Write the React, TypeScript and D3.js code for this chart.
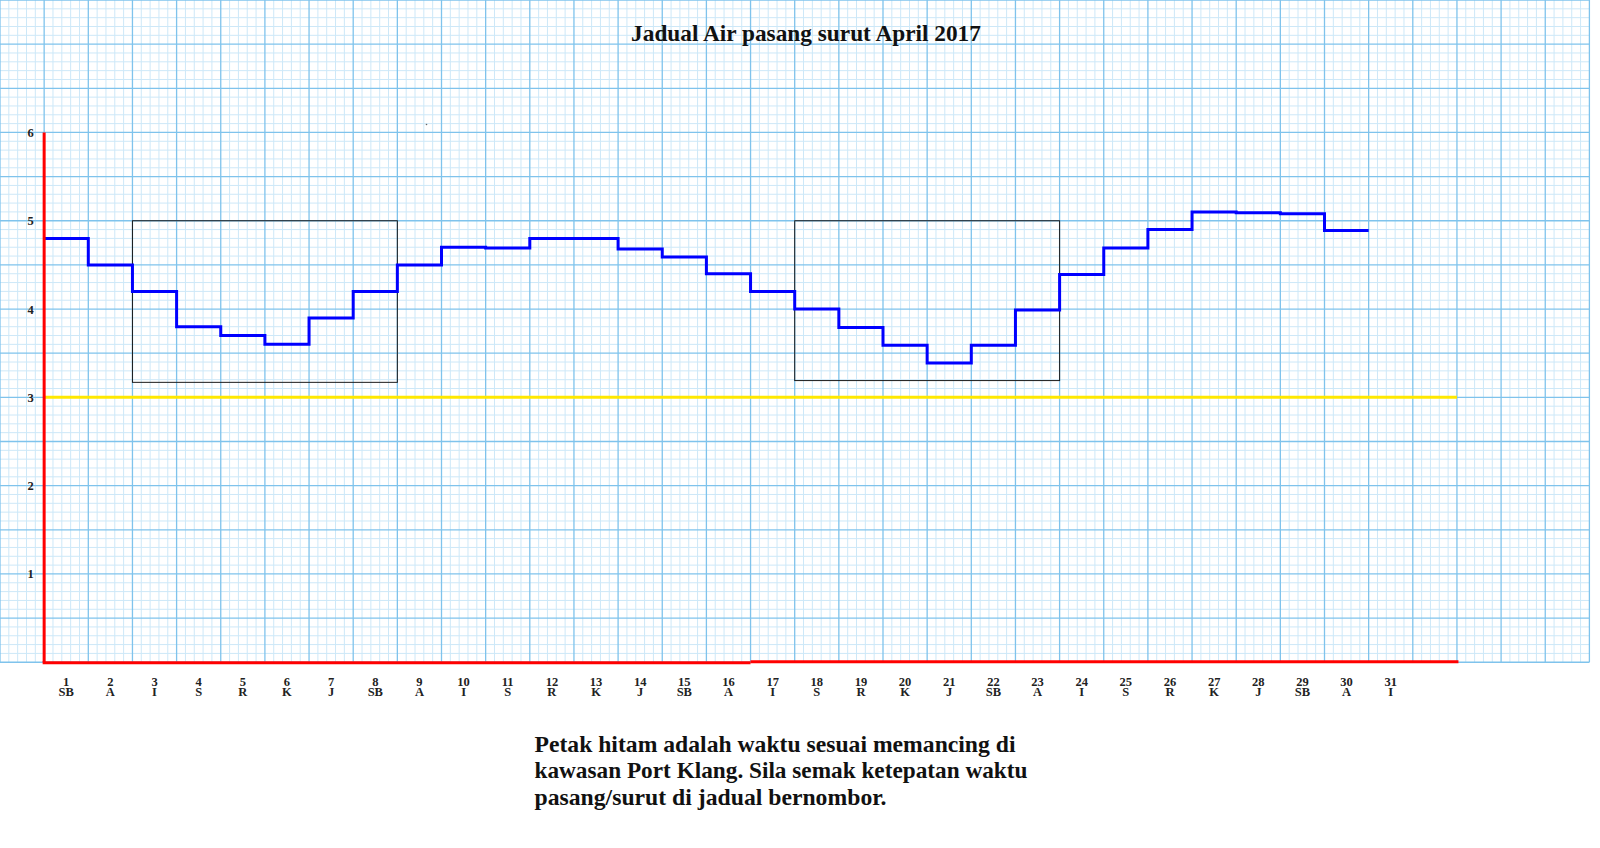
import React, { useEffect, useRef } from "react";
import * as d3 from "d3";

// April 2017 tide chart (Port Klang)
const dayNumbers = ["1","2","3","4","5","6","7","8","9","10","11","12","13","14","15","16","17","18","19","20","21","22","23","24","25","26","27","28","29","30","31"];
const dayNames = ["SB","A","I","S","R","K","J","SB","A","I","S","R","K","J","SB","A","I","S","R","K","J","SB","A","I","S","R","K","J","SB","A","I"];
const tideLevels = [4.8, 4.5, 4.2, 3.8, 3.7, 3.6, 3.9, 4.2, 4.5, 4.7, 4.69, 4.8, 4.8, 4.68, 4.59, 4.4, 4.2, 4.0, 3.79, 3.59, 3.39, 3.59, 3.99, 4.39, 4.69, 4.9, 5.1, 5.09, 5.08, 4.89];
const yTicks = [1, 2, 3, 4, 5, 6];
const thresholdLevel = 3;
const windowStartDays = [3, 18];
const windowEndDays = [8, 23];
const windowTops = [5, 5];
const windowBottoms = [3.17, 3.19];
const titleText = "Jadual Air pasang surut April 2017";
const noteLines = [
  "Petak hitam adalah waktu sesuai memancing di",
  "kawasan Port Klang. Sila semak ketepatan waktu",
  "pasang/surut di jadual bernombor.",
];
const noteWidths = [481, 493, 352];

const W = 1600;
const H = 848;
const CELL = 44.15;
const COLS = 36;
const ROWS = 15;
const FONT = "'Liberation Serif', 'DejaVu Serif', serif";

export default function App() {
  const svgRef = useRef<SVGSVGElement>(null);

  useEffect(() => {
    const svg = d3.select(svgRef.current);
    svg.selectAll("*").remove();

    // one grid cell = one day horizontally, half a metre vertically
    const x = d3.scaleLinear().domain([0, COLS]).range([0, COLS * CELL]);
    const y = d3.scaleLinear().domain([0, ROWS / 2]).range([ROWS * CELL, 0]);
    const gridW = COLS * CELL;
    const gridH = ROWS * CELL;

    const grid = svg.append("g");
    const minorX = d3.range(0, COLS * 5 + 1).filter((i) => i % 5 !== 0);
    const minorY = d3.range(0, ROWS * 5 + 1).filter((i) => i % 5 !== 0);
    grid.selectAll(".mx").data(minorX).join("line")
      .attr("x1", (i) => x(i / 5)).attr("x2", (i) => x(i / 5))
      .attr("y1", 0).attr("y2", gridH)
      .attr("stroke", "#cde8f8").attr("stroke-width", 1);
    grid.selectAll(".my").data(minorY).join("line")
      .attr("y1", (i) => y(i / 10)).attr("y2", (i) => y(i / 10))
      .attr("x1", 0).attr("x2", gridW)
      .attr("stroke", "#cde8f8").attr("stroke-width", 1);
    grid.selectAll(".Mx").data(d3.range(0, COLS + 1)).join("line")
      .attr("x1", (i) => x(i)).attr("x2", (i) => x(i))
      .attr("y1", 0).attr("y2", gridH)
      .attr("stroke", "#7fc3ec").attr("stroke-width", 1.3);
    grid.selectAll(".My").data(d3.range(0, ROWS + 1)).join("line")
      .attr("y1", (i) => y(i / 2)).attr("y2", (i) => y(i / 2))
      .attr("x1", 0).attr("x2", gridW)
      .attr("stroke", "#7fc3ec").attr("stroke-width", 1.3);

    // title
    svg.append("text")
      .attr("x", 806).attr("y", 41)
      .attr("text-anchor", "middle")
      .attr("font-family", FONT).attr("font-weight", "bold")
      .attr("font-size", 23.3)
      .attr("fill", "#111")
      .text(titleText);

    // threshold line
    svg.append("line")
      .attr("x1", x(1)).attr("x2", x(33))
      .attr("y1", y(thresholdLevel)).attr("y2", y(thresholdLevel))
      .attr("stroke", "#ffe800").attr("stroke-width", 3);

    // fishing windows
    svg.selectAll(".win").data(windowStartDays).join("rect")
      .attr("x", (d) => x(d))
      .attr("width", (d, i) => x(windowEndDays[i] + 1) - x(d))
      .attr("y", (d, i) => y(windowTops[i]))
      .attr("height", (d, i) => y(windowBottoms[i]) - y(windowTops[i]))
      .attr("fill", "none").attr("stroke", "#1a1a1a").attr("stroke-width", 1);

    // tide step line
    const pts: [number, number][] = tideLevels.map((v, i) => [i + 1, v]);
    pts.push([tideLevels.length + 1, tideLevels[tideLevels.length - 1]]);
    const stepLine = d3.line<[number, number]>()
      .x((d) => x(d[0]))
      .y((d) => y(d[1]))
      .curve(d3.curveStepAfter);
    svg.append("path")
      .attr("d", stepLine(pts))
      .attr("fill", "none")
      .attr("stroke", "#0000ff")
      .attr("stroke-width", 3);

    // axes in red
    svg.append("line")
      .attr("x1", x(1)).attr("x2", x(1))
      .attr("y1", y(6)).attr("y2", y(0))
      .attr("stroke", "#ff0000").attr("stroke-width", 3);
    svg.append("line")
      .attr("x1", x(1) - 1.5).attr("x2", x(17))
      .attr("y1", y(0) + 0.5).attr("y2", y(0) + 0.5)
      .attr("stroke", "#ff0000").attr("stroke-width", 3);
    svg.append("line")
      .attr("x1", x(17)).attr("x2", x(33) + 1.5)
      .attr("y1", y(0) - 0.5).attr("y2", y(0) - 0.5)
      .attr("stroke", "#ff0000").attr("stroke-width", 3);

    // y labels
    svg.selectAll(".yl").data(yTicks).join("text")
      .attr("x", 30.5).attr("y", (d) => y(d) + 4.5)
      .attr("text-anchor", "middle")
      .attr("font-family", FONT).attr("font-weight", "bold")
      .attr("font-size", 12.5).attr("fill", "#222")
      .text((d) => String(d));

    // x labels: day number above day name, one text each
    const xl = svg.append("g");
    const lab = xl.selectAll(".xl").data(dayNumbers).join("text")
      .attr("text-anchor", "middle")
      .attr("font-family", FONT).attr("font-weight", "bold")
      .attr("font-size", 12.5).attr("fill", "#222");
    lab.append("tspan")
      .attr("x", (d, i) => x(i + 1.5)).attr("y", 685.5)
      .text((d) => d);
    lab.append("tspan")
      .attr("x", (d, i) => x(i + 1.5)).attr("y", 696)
      .text((d, i) => dayNames[i]);

    // note below chart
    svg.selectAll(".note").data(noteLines).join("text")
      .attr("x", 534.5).attr("y", (d, i) => 751.5 + i * 26.8)
      .attr("font-family", FONT).attr("font-weight", "bold")
      .attr("font-size", 22.5).attr("fill", "#111")
      .attr("textLength", (d, i) => noteWidths[i])
      .attr("lengthAdjust", "spacingAndGlyphs")
      .text((d) => d);

    // small speck on the paper
    svg.append("circle").attr("cx", 426.5).attr("cy", 124.5).attr("r", 0.8).attr("fill", "#666");
  }, []);

  return (
    <div style={{ position: "absolute", left: 0, top: 0 }}>
      <svg ref={svgRef} width={W} height={H} style={{ display: "block", background: "#fff" }} />
    </div>
  );
}
